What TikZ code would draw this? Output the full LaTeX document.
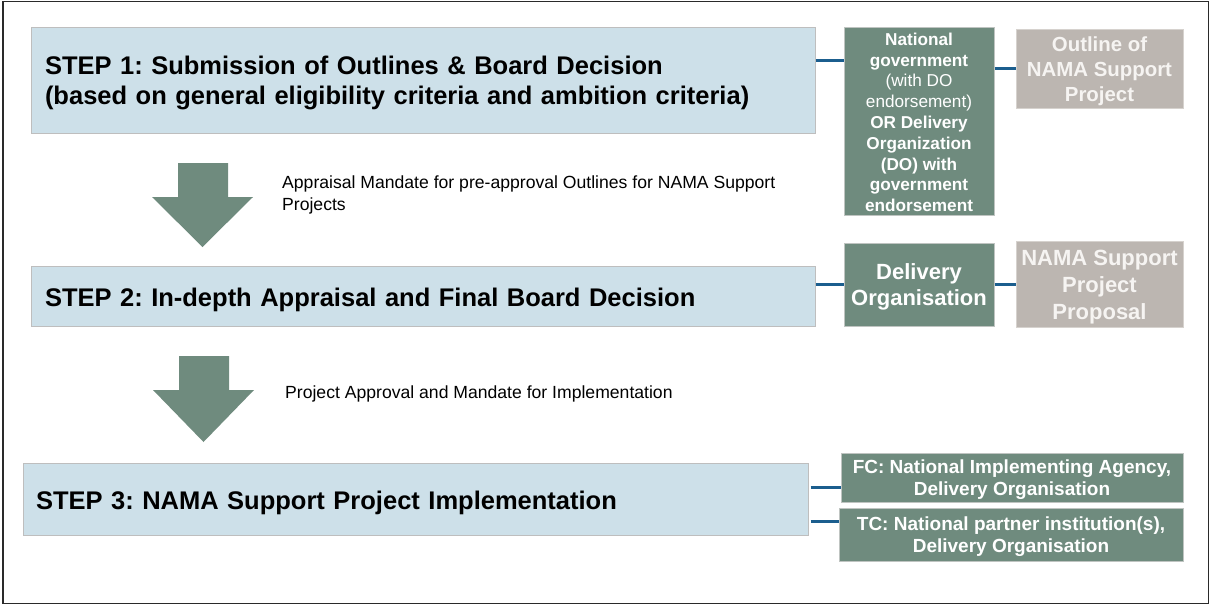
\documentclass[tikz,border=0pt]{standalone}
\usepackage{fontspec}
\setmainfont{Liberation Sans}
\frenchspacing
\definecolor{stepfill}{HTML}{CDE0E9}
\definecolor{stepdraw}{HTML}{BEBEBE}
\definecolor{sage}{HTML}{6F8B7E}
\definecolor{sagedraw}{HTML}{BFC4C1}
\definecolor{taupe}{HTML}{BCB6B1}
\definecolor{taupedraw}{HTML}{D6D2CE}
\definecolor{taupetext}{HTML}{F6F4F2}
\definecolor{linkblue}{HTML}{1B5E8E}
\definecolor{frame}{HTML}{2A2A2A}
\tikzset{
  stepbox/.style={draw=stepdraw, fill=stepfill, line width=1pt, text=black,
    font=\bfseries\fontsize{25.5}{30}\selectfont, align=left, inner ysep=0pt},
  actor/.style={draw=sagedraw, fill=sage, line width=1pt, text=white,
    align=center, inner sep=0pt},
  product/.style={draw=taupedraw, fill=taupe, line width=1pt, text=taupetext,
    align=center, inner sep=0pt},
  conn/.style={draw=linkblue, line width=3pt},
  blockarrow/.style={fill=sage},
  caption/.style={text=black, font=\fontsize{17.6}{22}\selectfont, align=left, inner sep=0pt}
}
\begin{document}
\begin{tikzpicture}[x=1pt,y=-1pt]
\useasboundingbox (0,0) rectangle (1210,606);
\draw[frame, line width=1.5pt] (3,1.5) rectangle (1208.5,603.5);

% step boxes
\node[stepbox, inner xsep=14pt, text width=756pt, minimum height=106pt] (s1) at (423,80)
  {\rule{0pt}{23.4pt}STEP 1: Submission of Outlines \& Board Decision\\(based on general eligibility criteria and ambition criteria)};
\node[stepbox, inner xsep=14pt, text width=756pt, minimum height=60pt] (s2) at (423,296)
  {\rule{0pt}{25.4pt}STEP 2: In-depth Appraisal and Final Board Decision};
\node[stepbox, inner xsep=13pt, text width=759pt, minimum height=72pt] (s3) at (415.5,499)
  {\rule{0pt}{25.4pt}STEP 3: NAMA Support Project Implementation};

% actors
\node[actor, minimum width=150pt, minimum height=188pt,
  font=\bfseries\fontsize{17.2}{20.8}\selectfont] (g1) at (919,121)
  {\rule{0pt}{15pt}National\\government\\{\mdseries (with DO}\\{\mdseries endorsement)}\\OR Delivery\\Organization\\(DO) with\\government\\endorsement};
\node[actor, minimum width=150pt, minimum height=83pt,
  font=\bfseries\fontsize{22}{26}\selectfont] (g2) at (919,284.5)
  {\rule{0pt}{20pt}Delivery\\Organisation};
\node[actor, minimum width=342pt, minimum height=49pt,
  font=\bfseries\fontsize{19}{21.7}\selectfont] (fc) at (1012,477.5)
  {\rule{0pt}{17.5pt}FC: National Implementing Agency,\\Delivery Organisation};
\node[actor, minimum width=344pt, minimum height=53pt,
  font=\bfseries\fontsize{19}{21.7}\selectfont] (tc) at (1011,534.5)
  {\rule{0pt}{17.5pt}TC: National partner institution(s),\\Delivery Organisation};

% products
\node[product, minimum width=167pt, minimum height=79pt,
  font=\bfseries\fontsize{20.4}{25}\selectfont] (p1) at (1099.5,68.5)
  {\rule{0pt}{21pt}Outline of\\NAMA Support\\Project};
\node[product, minimum width=167pt, minimum height=86pt,
  font=\bfseries\fontsize{22}{27}\selectfont] (p2) at (1099.5,284)
  {\rule{0pt}{22pt}NAMA Support\\Project\\Proposal};

% connectors
\draw[conn] (s1.east |- 0,60) -- (g1.west |- 0,60);
\draw[conn] (g1.east |- p1.west) -- (p1.west);
\draw[conn] (s2.east |- g2.west) -- (g2.west);
\draw[conn] (g2.east |- p2.west) -- (p2.west);
\draw[conn] ([xshift=2pt]s3.east |- 0,487) -- (fc.west |- 0,487);
\draw[conn] ([xshift=2pt]s3.east |- 0,521) -- (tc.west |- 0,521);

% block arrows
\fill[blockarrow] (178,163) -- (228,163) -- (228,197) -- (253,197) -- (202.5,247) -- (152,197) -- (178,197) -- cycle;
\fill[blockarrow] (179,356) -- (229,356) -- (229,390) -- (254,390) -- (203.5,442) -- (153,390) -- (179,390) -- cycle;

% captions
\node[caption, anchor=north west] (c1) at (282,175.4)
  {Appraisal Mandate for pre-approval Outlines for NAMA Support\\Projects};
\node[caption, anchor=base west] (c2) at (285,398)
  {Project Approval and Mandate for Implementation};
\end{tikzpicture}
\end{document}
